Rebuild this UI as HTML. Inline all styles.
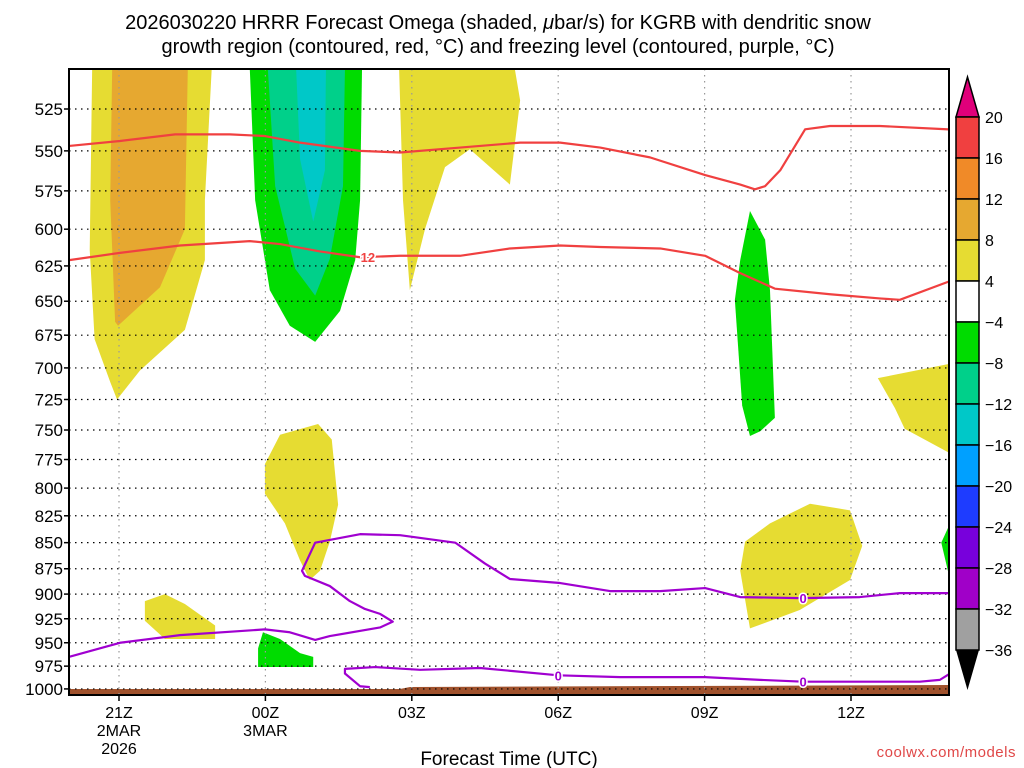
<!DOCTYPE html>
<html><head><meta charset="utf-8"><style>
body{margin:0;background:#fff;width:1024px;height:768px;overflow:hidden}
svg{display:block;font-family:"Liberation Sans",sans-serif}
</style></head><body>
<svg id="c" width="1024" height="768"></svg>
<script>
// ---- data ----
const pressureTicks=[525,550,575,600,625,650,675,700,725,750,775,800,825,850,875,900,925,950,975,1000];
const timeTicks=[0,3,6,9,12];
const timeLabels=[["21Z","2MAR","2026"],["00Z","3MAR"],["03Z"],["06Z"],["09Z"],["12Z"]];
const cbLevels=["20","16","12","8","4","−4","−8","−12","−16","−20","−24","−28","−32","−36"];
const cbColors=["#f04040","#f08a28","#e6a830","#e6dc32","#ffffff","#00dc00","#00d08a","#00c8c8","#00a0ff","#1e3cff","#7800dc","#a000c8","#a0a0a0"];
// shaded omega regions [hour from 21Z, hPa]
const yellowA=[[-0.55,502],[1.9,502],[1.76,581],[1.76,621],[1.35,671],[0.43,702],[-0.04,725],[-0.18,711],[-0.5,678],[-0.6,614]];
const orangeA=[[-0.14,502],[1.41,502],[1.35,600],[0.84,640],[-0.02,668],[-0.08,665],[-0.18,581]];
const greenA=[[2.68,502],[4.98,502],[4.94,581],[4.84,621],[4.53,657],[4.02,680],[3.5,668],[3.09,642],[2.79,581]];
const tealA=[[3.05,502],[4.63,502],[4.59,572],[4.32,620],[4.02,646],[3.61,627],[3.2,572]];
const cyanA=[[3.63,502],[4.24,502],[4.22,562],[3.98,595],[3.71,555]];
const yellowB=[[5.74,502],[8.11,502],[8.22,520],[8.01,571],[7.19,549],[6.68,560],[6.27,600],[5.96,642],[5.82,581]];
const greenB=[[12.93,588],[13.24,607],[13.34,642],[13.44,740],[13.14,751],[12.93,755],[12.77,730],[12.62,649],[12.73,621]];
const yellowC=[[15.55,708],[17.0,697],[17.0,769],[16.1,749],[15.9,732]];
const yellowD=[[4.08,745],[4.36,758],[4.49,815],[4.32,849],[4.12,877],[3.91,886],[3.71,867],[3.4,832],[2.99,805],[2.99,779],[3.3,754]];
const yellowE=[[14.16,814],[14.98,820],[15.23,853],[14.98,886],[13.95,916],[12.93,935],[12.73,877],[12.83,849],[13.34,832]];
const yellowF=[[0.53,907],[0.94,900],[1.35,910],[1.97,932],[1.97,946],[0.94,946],[0.53,927]];
const greenC=[[2.95,939],[3.3,946],[3.71,961],[3.98,965],[3.98,976],[2.85,976],[2.85,956]];
const greenD=[[16.85,850],[17.0,835],[17.0,880]];
// contour lines
const redUpper=[[-1.02,547],[0.02,544],[1.15,540],[2.27,540],[2.99,541],[3.71,545],[4.94,550],[5.76,551],[6.99,548],[8.22,545],[9.04,545],[9.86,548],[10.88,554],[12.01,565],[12.73,571],[13.03,574],[13.24,572],[13.55,562],[14.06,537],[14.57,535],[15.59,535],[17.0,537]];
const redLower=[[-1.02,621],[0.02,616],[1.25,611],[2.68,608],[3.3,610],[4.12,615],[4.94,619],[5.76,618],[6.99,618],[8.01,613],[9.04,611],[9.86,612],[11.09,613],[12.01,618],[12.73,630],[13.44,641],[14.57,645],[15.59,648],[16.0,649],[17.0,636]];
const purpleUpper=[[-1.02,965],[0.02,950],[1.25,942],[2.99,936],[3.5,939],[4.02,947],[4.32,943],[5.35,934],[5.61,928],[5.35,920],[5.04,915],[4.73,907],[4.32,892],[3.81,882],[3.75,877],[4.02,850],[4.94,842],[5.76,843],[6.89,850],[7.5,870],[8.01,885],[9.04,889],[10.06,897],[11.09,897],[12.01,894],[12.73,903],[13.95,904],[15.18,903],[16.0,899],[17.0,899]];
const purpleLower=[[5.14,998],[4.94,997],[4.63,983],[4.63,978],[5.25,976],[6.17,979],[7.4,977],[9.0,985],[10.27,987],[12.01,987],[13.14,990],[14.02,992],[15.18,992],[16.41,992],[16.82,990],[17.0,984]];
const zeroLabels=[[9.0,985],[14.02,992],[14.02,904]];
const twelveLabels=[[5.1,619]];
// ---- axes ----
const L=69,R=949,T=69,B=695;
const X=h=>119+48.8*h;
const Y=p=>109+900*Math.log(p/525);
const svg=document.getElementById('c');
const NS="http://www.w3.org/2000/svg";
function mk(tag,a,parent){const e=document.createElementNS(NS,tag);for(const k in a)e.setAttribute(k,a[k]);(parent||svg).appendChild(e);return e;}
const clip=mk('clipPath',{id:'pc'});mk('rect',{x:L,y:T,width:R-L,height:B-T},clip);
const g=mk('g',{'clip-path':'url(#pc)'});


function poly(pts,fill,name){const e=mk('polygon',{points:pts.map(q=>X(q[0])+','+Y(q[1])).join(' '),fill:fill},g);

}
function line(pts,col,name){const e=mk('polyline',{points:pts.map(q=>X(q[0])+','+Y(q[1])).join(' '),fill:'none',stroke:col,'stroke-width':2.2,'stroke-linejoin':'round'},g);

}
poly(yellowA,'#e6dc32','omega-yellow-region-a');
poly(orangeA,'#e6a830','omega-orange-region');
poly(greenA,'#00dc00','omega-green-region-a');
poly(tealA,'#00d08a','omega-teal-region');
poly(cyanA,'#00c8c8','omega-cyan-region');
poly(yellowB,'#e6dc32','omega-yellow-region-b');
poly(greenB,'#00dc00','omega-green-region-b');
poly(yellowC,'#e6dc32','omega-yellow-region-c');
poly(yellowD,'#e6dc32','omega-yellow-region-d');
poly(yellowE,'#e6dc32','omega-yellow-region-e');
poly(yellowF,'#e6dc32','omega-yellow-region-f');
poly(greenC,'#00dc00','omega-green-region-c');
poly(greenD,'#00dc00','omega-green-region-d');
// ground
const gr=mk('polygon',{points:`${L},689 400,689 410,687 ${R},685 ${R},${B} ${L},${B}`,fill:'#a0522d'},g);


// grid
pressureTicks.forEach(p=>{const e=mk('line',{x1:L,x2:R,y1:Y(p),y2:Y(p),stroke:'#000','stroke-width':1.2,'stroke-dasharray':'1.5 4.5'},g);

});
[-1,0,1,2,3,4,5].forEach(i=>{const h=i*3;const e=mk('line',{x1:X(h),x2:X(h),y1:T,y2:B,stroke:'#999','stroke-width':1.2,'stroke-dasharray':'1.5 4.5'},g);

});
line(redUpper,'#f04040','dgz-contour-upper');
line(redLower,'#f04040','dgz-contour-lower');
line(purpleUpper,'#a000d0','freezing-level-upper');
line(purpleLower,'#a000d0','freezing-level-lower');
function clabel(pts,txt,col,name){pts.forEach(q=>{const t=mk('text',{x:X(q[0]),y:Y(q[1])+5,'text-anchor':'middle','font-size':13,'font-weight':'bold',fill:col,stroke:'#fff','stroke-width':3,'paint-order':'stroke'},g);t.textContent=txt;

});}
clabel(zeroLabels,'0','#a000d0','freezing-contour-label');
clabel(twelveLabels,'12','#f04040','dgz-contour-label');
// frame
const fr=mk('rect',{x:L,y:T,width:R-L,height:B-T,fill:'none',stroke:'#000','stroke-width':2});


// y ticks
pressureTicks.forEach(p=>{mk('line',{x1:L-5,x2:L,y1:Y(p),y2:Y(p),stroke:'#000','stroke-width':1.5});
const t=mk('text',{x:63,y:Y(p)+6,'text-anchor':'end','font-size':17});t.textContent=p;

});
// x ticks
timeLabels.forEach((ls,i)=>{const x=X(i*3);mk('line',{x1:x,x2:x,y1:B,y2:B+6,stroke:'#000','stroke-width':1.5});
ls.forEach((s,j)=>{const t=mk('text',{x:x,y:718+j*18,'text-anchor':'middle','font-size':16});t.textContent=s;

});});
const xt=mk('text',{x:509,y:765,'text-anchor':'middle','font-size':19});xt.textContent='Forecast Time (UTC)';


const cw=mk('text',{x:1016,y:757,'text-anchor':'end','font-size':15,fill:'#e04848','letter-spacing':'0.5'});cw.textContent='coolwx.com/models';


// title
const t1=mk('text',{x:498,y:29,'text-anchor':'middle','font-size':20});t1.innerHTML='2026030220 HRRR Forecast Omega (shaded, <tspan font-style="italic">μ</tspan>bar/s) for KGRB with dendritic snow';


const t2=mk('text',{x:498,y:53,'text-anchor':'middle','font-size':20});t2.textContent='growth region (contoured, red, °C) and freezing level (contoured, purple, °C)';


// colorbar
const cx=956,cwid=23,ctop=117,cst=41;
const cb=mk('g',{});


mk('polygon',{points:`${cx},${ctop} ${cx+cwid},${ctop} ${cx+cwid/2},77`,fill:'#e0007a',stroke:'#000','stroke-width':1.5},cb);
cbColors.forEach((c,i)=>{mk('rect',{x:cx,y:ctop+i*cst,width:cwid,height:cst,fill:c,stroke:'#000','stroke-width':1.5},cb);});
const cbot=ctop+cbColors.length*cst;
mk('polygon',{points:`${cx},${cbot} ${cx+cwid},${cbot} ${cx+cwid/2},690`,fill:'#000'},cb);
cbLevels.forEach((s,i)=>{const t=mk('text',{x:985,y:ctop+i*cst+6,'font-size':16},cb);t.textContent=s;

});
</script>
</body></html>
